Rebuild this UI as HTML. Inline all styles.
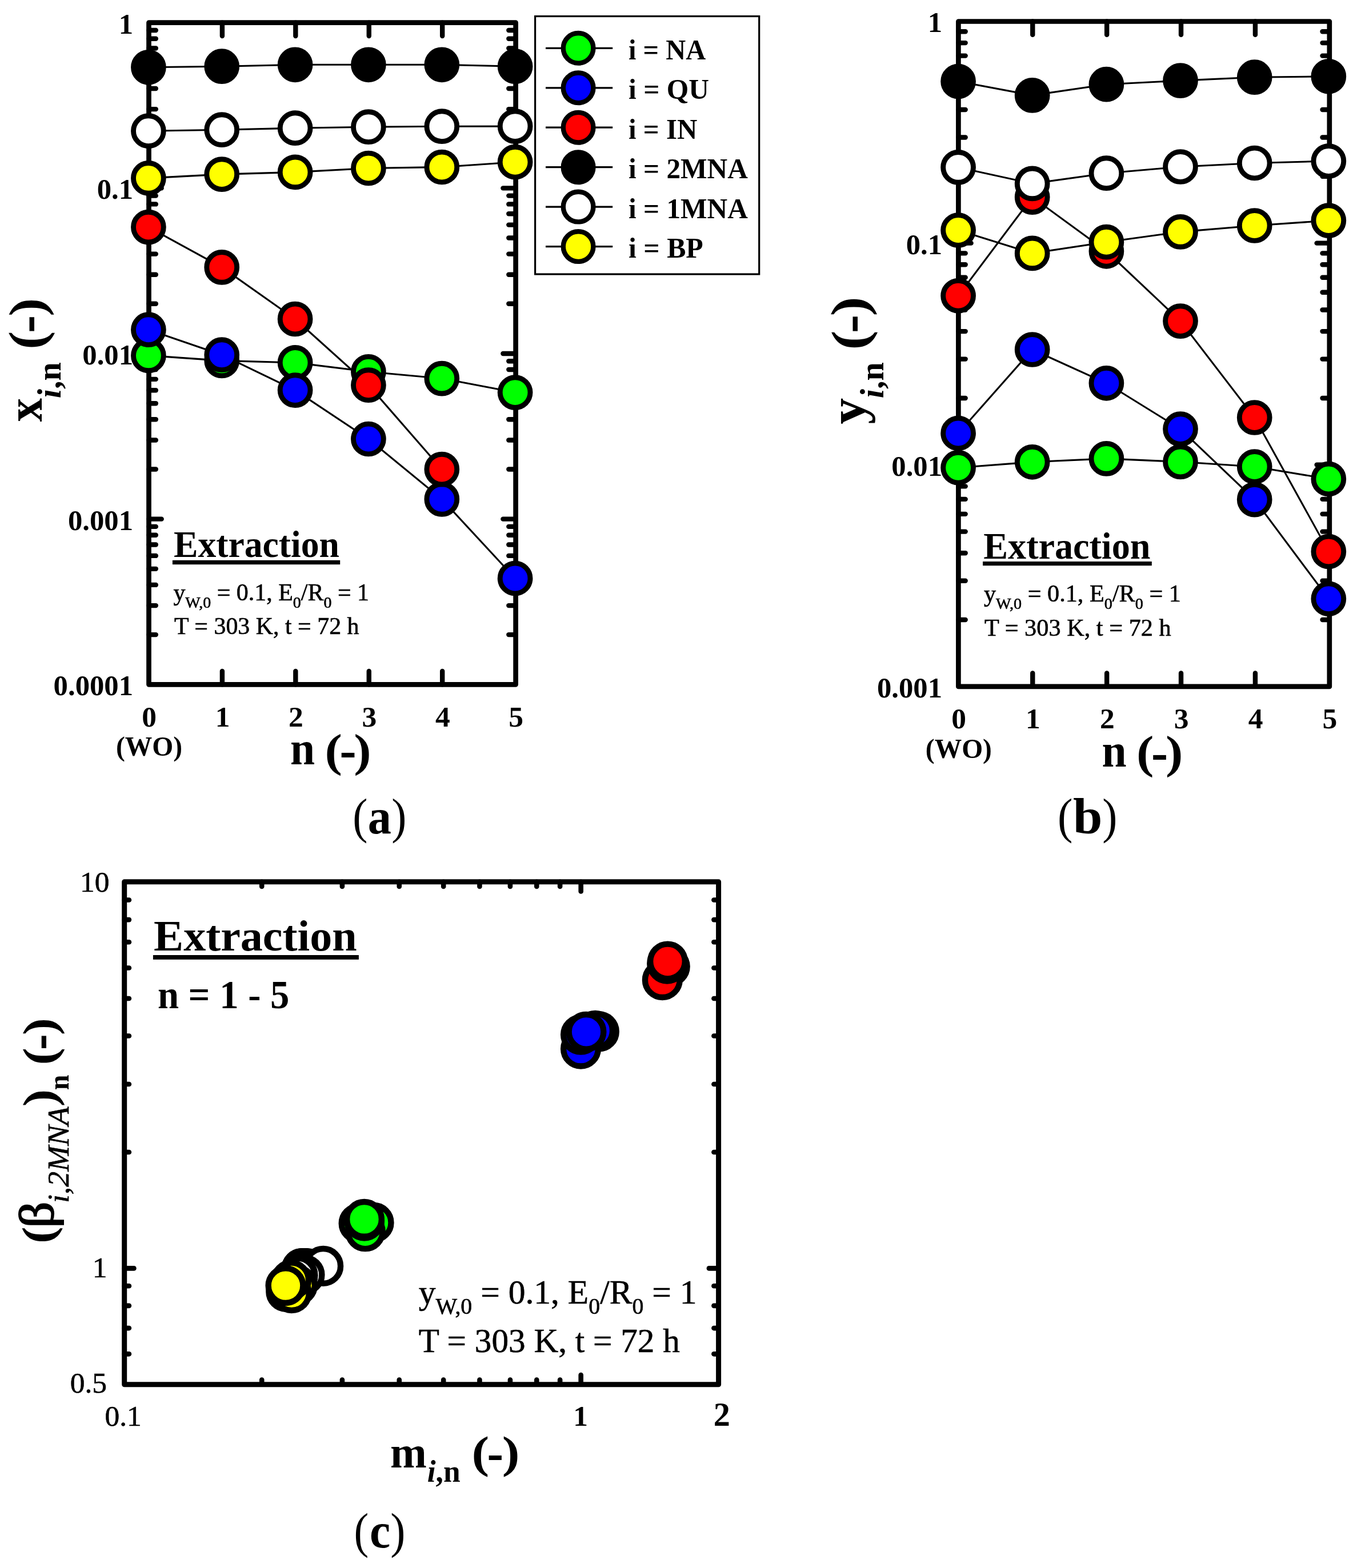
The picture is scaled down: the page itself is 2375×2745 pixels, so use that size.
<!DOCTYPE html>
<html lang="en"><head><meta charset="utf-8"><title>Extraction figure</title>
<style>
html,body{margin:0;padding:0;background:#fff}
svg{display:block}
text{font-family:"Liberation Serif","DejaVu Serif",serif;fill:#000}
</style></head><body>
<svg width="2375" height="2745" viewBox="0 0 2375 2745">
<rect x="0" y="0" width="2375" height="2745" fill="#fff"/>
<g id="plot-a">
<line x1="260.50" y1="242.16" x2="272.80" y2="242.16" stroke="#000" stroke-width="8.4" stroke-linecap="round"/>
<line x1="902.60" y1="242.16" x2="890.30" y2="242.16" stroke="#000" stroke-width="8.4" stroke-linecap="round"/>
<line x1="260.50" y1="191.15" x2="272.80" y2="191.15" stroke="#000" stroke-width="8.4" stroke-linecap="round"/>
<line x1="902.60" y1="191.15" x2="890.30" y2="191.15" stroke="#000" stroke-width="8.4" stroke-linecap="round"/>
<line x1="260.50" y1="154.96" x2="272.80" y2="154.96" stroke="#000" stroke-width="8.4" stroke-linecap="round"/>
<line x1="902.60" y1="154.96" x2="890.30" y2="154.96" stroke="#000" stroke-width="8.4" stroke-linecap="round"/>
<line x1="260.50" y1="126.89" x2="272.80" y2="126.89" stroke="#000" stroke-width="8.4" stroke-linecap="round"/>
<line x1="902.60" y1="126.89" x2="890.30" y2="126.89" stroke="#000" stroke-width="8.4" stroke-linecap="round"/>
<line x1="260.50" y1="103.96" x2="272.80" y2="103.96" stroke="#000" stroke-width="8.4" stroke-linecap="round"/>
<line x1="902.60" y1="103.96" x2="890.30" y2="103.96" stroke="#000" stroke-width="8.4" stroke-linecap="round"/>
<line x1="260.50" y1="84.57" x2="272.80" y2="84.57" stroke="#000" stroke-width="8.4" stroke-linecap="round"/>
<line x1="902.60" y1="84.57" x2="890.30" y2="84.57" stroke="#000" stroke-width="8.4" stroke-linecap="round"/>
<line x1="260.50" y1="67.77" x2="272.80" y2="67.77" stroke="#000" stroke-width="8.4" stroke-linecap="round"/>
<line x1="902.60" y1="67.77" x2="890.30" y2="67.77" stroke="#000" stroke-width="8.4" stroke-linecap="round"/>
<line x1="260.50" y1="52.95" x2="272.80" y2="52.95" stroke="#000" stroke-width="8.4" stroke-linecap="round"/>
<line x1="902.60" y1="52.95" x2="890.30" y2="52.95" stroke="#000" stroke-width="8.4" stroke-linecap="round"/>
<line x1="260.50" y1="329.35" x2="282.70" y2="329.35" stroke="#000" stroke-width="8.4" stroke-linecap="round"/>
<line x1="902.60" y1="329.35" x2="880.40" y2="329.35" stroke="#000" stroke-width="8.4" stroke-linecap="round"/>
<line x1="260.50" y1="531.81" x2="272.80" y2="531.81" stroke="#000" stroke-width="8.4" stroke-linecap="round"/>
<line x1="902.60" y1="531.81" x2="890.30" y2="531.81" stroke="#000" stroke-width="8.4" stroke-linecap="round"/>
<line x1="260.50" y1="480.80" x2="272.80" y2="480.80" stroke="#000" stroke-width="8.4" stroke-linecap="round"/>
<line x1="902.60" y1="480.80" x2="890.30" y2="480.80" stroke="#000" stroke-width="8.4" stroke-linecap="round"/>
<line x1="260.50" y1="444.61" x2="272.80" y2="444.61" stroke="#000" stroke-width="8.4" stroke-linecap="round"/>
<line x1="902.60" y1="444.61" x2="890.30" y2="444.61" stroke="#000" stroke-width="8.4" stroke-linecap="round"/>
<line x1="260.50" y1="416.54" x2="272.80" y2="416.54" stroke="#000" stroke-width="8.4" stroke-linecap="round"/>
<line x1="902.60" y1="416.54" x2="890.30" y2="416.54" stroke="#000" stroke-width="8.4" stroke-linecap="round"/>
<line x1="260.50" y1="393.61" x2="272.80" y2="393.61" stroke="#000" stroke-width="8.4" stroke-linecap="round"/>
<line x1="902.60" y1="393.61" x2="890.30" y2="393.61" stroke="#000" stroke-width="8.4" stroke-linecap="round"/>
<line x1="260.50" y1="374.22" x2="272.80" y2="374.22" stroke="#000" stroke-width="8.4" stroke-linecap="round"/>
<line x1="902.60" y1="374.22" x2="890.30" y2="374.22" stroke="#000" stroke-width="8.4" stroke-linecap="round"/>
<line x1="260.50" y1="357.42" x2="272.80" y2="357.42" stroke="#000" stroke-width="8.4" stroke-linecap="round"/>
<line x1="902.60" y1="357.42" x2="890.30" y2="357.42" stroke="#000" stroke-width="8.4" stroke-linecap="round"/>
<line x1="260.50" y1="342.60" x2="272.80" y2="342.60" stroke="#000" stroke-width="8.4" stroke-linecap="round"/>
<line x1="902.60" y1="342.60" x2="890.30" y2="342.60" stroke="#000" stroke-width="8.4" stroke-linecap="round"/>
<line x1="260.50" y1="619.00" x2="282.70" y2="619.00" stroke="#000" stroke-width="8.4" stroke-linecap="round"/>
<line x1="902.60" y1="619.00" x2="880.40" y2="619.00" stroke="#000" stroke-width="8.4" stroke-linecap="round"/>
<line x1="260.50" y1="821.46" x2="272.80" y2="821.46" stroke="#000" stroke-width="8.4" stroke-linecap="round"/>
<line x1="902.60" y1="821.46" x2="890.30" y2="821.46" stroke="#000" stroke-width="8.4" stroke-linecap="round"/>
<line x1="260.50" y1="770.45" x2="272.80" y2="770.45" stroke="#000" stroke-width="8.4" stroke-linecap="round"/>
<line x1="902.60" y1="770.45" x2="890.30" y2="770.45" stroke="#000" stroke-width="8.4" stroke-linecap="round"/>
<line x1="260.50" y1="734.26" x2="272.80" y2="734.26" stroke="#000" stroke-width="8.4" stroke-linecap="round"/>
<line x1="902.60" y1="734.26" x2="890.30" y2="734.26" stroke="#000" stroke-width="8.4" stroke-linecap="round"/>
<line x1="260.50" y1="706.19" x2="272.80" y2="706.19" stroke="#000" stroke-width="8.4" stroke-linecap="round"/>
<line x1="902.60" y1="706.19" x2="890.30" y2="706.19" stroke="#000" stroke-width="8.4" stroke-linecap="round"/>
<line x1="260.50" y1="683.26" x2="272.80" y2="683.26" stroke="#000" stroke-width="8.4" stroke-linecap="round"/>
<line x1="902.60" y1="683.26" x2="890.30" y2="683.26" stroke="#000" stroke-width="8.4" stroke-linecap="round"/>
<line x1="260.50" y1="663.87" x2="272.80" y2="663.87" stroke="#000" stroke-width="8.4" stroke-linecap="round"/>
<line x1="902.60" y1="663.87" x2="890.30" y2="663.87" stroke="#000" stroke-width="8.4" stroke-linecap="round"/>
<line x1="260.50" y1="647.07" x2="272.80" y2="647.07" stroke="#000" stroke-width="8.4" stroke-linecap="round"/>
<line x1="902.60" y1="647.07" x2="890.30" y2="647.07" stroke="#000" stroke-width="8.4" stroke-linecap="round"/>
<line x1="260.50" y1="632.25" x2="272.80" y2="632.25" stroke="#000" stroke-width="8.4" stroke-linecap="round"/>
<line x1="902.60" y1="632.25" x2="890.30" y2="632.25" stroke="#000" stroke-width="8.4" stroke-linecap="round"/>
<line x1="260.50" y1="908.65" x2="282.70" y2="908.65" stroke="#000" stroke-width="8.4" stroke-linecap="round"/>
<line x1="902.60" y1="908.65" x2="880.40" y2="908.65" stroke="#000" stroke-width="8.4" stroke-linecap="round"/>
<line x1="260.50" y1="1111.11" x2="272.80" y2="1111.11" stroke="#000" stroke-width="8.4" stroke-linecap="round"/>
<line x1="902.60" y1="1111.11" x2="890.30" y2="1111.11" stroke="#000" stroke-width="8.4" stroke-linecap="round"/>
<line x1="260.50" y1="1060.10" x2="272.80" y2="1060.10" stroke="#000" stroke-width="8.4" stroke-linecap="round"/>
<line x1="902.60" y1="1060.10" x2="890.30" y2="1060.10" stroke="#000" stroke-width="8.4" stroke-linecap="round"/>
<line x1="260.50" y1="1023.91" x2="272.80" y2="1023.91" stroke="#000" stroke-width="8.4" stroke-linecap="round"/>
<line x1="902.60" y1="1023.91" x2="890.30" y2="1023.91" stroke="#000" stroke-width="8.4" stroke-linecap="round"/>
<line x1="260.50" y1="995.84" x2="272.80" y2="995.84" stroke="#000" stroke-width="8.4" stroke-linecap="round"/>
<line x1="902.60" y1="995.84" x2="890.30" y2="995.84" stroke="#000" stroke-width="8.4" stroke-linecap="round"/>
<line x1="260.50" y1="972.91" x2="272.80" y2="972.91" stroke="#000" stroke-width="8.4" stroke-linecap="round"/>
<line x1="902.60" y1="972.91" x2="890.30" y2="972.91" stroke="#000" stroke-width="8.4" stroke-linecap="round"/>
<line x1="260.50" y1="953.52" x2="272.80" y2="953.52" stroke="#000" stroke-width="8.4" stroke-linecap="round"/>
<line x1="902.60" y1="953.52" x2="890.30" y2="953.52" stroke="#000" stroke-width="8.4" stroke-linecap="round"/>
<line x1="260.50" y1="936.72" x2="272.80" y2="936.72" stroke="#000" stroke-width="8.4" stroke-linecap="round"/>
<line x1="902.60" y1="936.72" x2="890.30" y2="936.72" stroke="#000" stroke-width="8.4" stroke-linecap="round"/>
<line x1="260.50" y1="921.90" x2="272.80" y2="921.90" stroke="#000" stroke-width="8.4" stroke-linecap="round"/>
<line x1="902.60" y1="921.90" x2="890.30" y2="921.90" stroke="#000" stroke-width="8.4" stroke-linecap="round"/>
<line x1="388.92" y1="39.70" x2="388.92" y2="63.10" stroke="#000" stroke-width="8.4" stroke-linecap="round"/>
<line x1="388.92" y1="1198.30" x2="388.92" y2="1174.90" stroke="#000" stroke-width="8.4" stroke-linecap="round"/>
<line x1="517.34" y1="39.70" x2="517.34" y2="63.10" stroke="#000" stroke-width="8.4" stroke-linecap="round"/>
<line x1="517.34" y1="1198.30" x2="517.34" y2="1174.90" stroke="#000" stroke-width="8.4" stroke-linecap="round"/>
<line x1="645.76" y1="39.70" x2="645.76" y2="63.10" stroke="#000" stroke-width="8.4" stroke-linecap="round"/>
<line x1="645.76" y1="1198.30" x2="645.76" y2="1174.90" stroke="#000" stroke-width="8.4" stroke-linecap="round"/>
<line x1="774.18" y1="39.70" x2="774.18" y2="63.10" stroke="#000" stroke-width="8.4" stroke-linecap="round"/>
<line x1="774.18" y1="1198.30" x2="774.18" y2="1174.90" stroke="#000" stroke-width="8.4" stroke-linecap="round"/>
<rect x="260.5" y="39.7" width="642.10" height="1158.60" fill="none" stroke="#000" stroke-width="8.7" stroke-linejoin="round"/>
<polyline points="259.9,622.4 388.2,631.4 516.6,634.9 644.9,650.8 773.3,662.6 901.6,687.1" fill="none" stroke="#000" stroke-width="3.1"/>
<polyline points="259.9,577.2 388.2,621.2 516.6,683.1 644.9,768.5 773.3,873.9 901.6,1012.5" fill="none" stroke="#000" stroke-width="3.1"/>
<polyline points="259.9,397.6 388.2,467.9 516.6,558.5 644.9,674.2 773.3,821.6" fill="none" stroke="#000" stroke-width="3.1"/>
<polyline points="259.9,117.8 388.2,116.2 516.6,113.3 644.9,113.3 773.3,113.3 901.6,116.2" fill="none" stroke="#000" stroke-width="3.1"/>
<polyline points="259.9,229.2 388.2,227.2 516.6,224.2 644.9,222.2 773.3,221.2 901.6,221.1" fill="none" stroke="#000" stroke-width="3.1"/>
<polyline points="259.9,311.9 388.2,305.1 516.6,301.4 644.9,294.5 773.3,292.5 901.6,283.7" fill="none" stroke="#000" stroke-width="3.1"/>
<circle cx="259.9" cy="622.4" r="26.4" fill="#00ff00" stroke="#000" stroke-width="8.9"/>
<circle cx="388.2" cy="631.4" r="26.4" fill="#00ff00" stroke="#000" stroke-width="8.9"/>
<circle cx="516.6" cy="634.9" r="26.4" fill="#00ff00" stroke="#000" stroke-width="8.9"/>
<circle cx="644.9" cy="650.8" r="26.4" fill="#00ff00" stroke="#000" stroke-width="8.9"/>
<circle cx="773.3" cy="662.6" r="26.4" fill="#00ff00" stroke="#000" stroke-width="8.9"/>
<circle cx="901.6" cy="687.1" r="26.4" fill="#00ff00" stroke="#000" stroke-width="8.9"/>
<circle cx="259.9" cy="577.2" r="26.4" fill="#0000ff" stroke="#000" stroke-width="8.9"/>
<circle cx="388.2" cy="621.2" r="26.4" fill="#0000ff" stroke="#000" stroke-width="8.9"/>
<circle cx="516.6" cy="683.1" r="26.4" fill="#0000ff" stroke="#000" stroke-width="8.9"/>
<circle cx="644.9" cy="768.5" r="26.4" fill="#0000ff" stroke="#000" stroke-width="8.9"/>
<circle cx="773.3" cy="873.9" r="26.4" fill="#0000ff" stroke="#000" stroke-width="8.9"/>
<circle cx="901.6" cy="1012.5" r="26.4" fill="#0000ff" stroke="#000" stroke-width="8.9"/>
<circle cx="259.9" cy="397.6" r="26.4" fill="#ff0000" stroke="#000" stroke-width="8.9"/>
<circle cx="388.2" cy="467.9" r="26.4" fill="#ff0000" stroke="#000" stroke-width="8.9"/>
<circle cx="516.6" cy="558.5" r="26.4" fill="#ff0000" stroke="#000" stroke-width="8.9"/>
<circle cx="644.9" cy="674.2" r="26.4" fill="#ff0000" stroke="#000" stroke-width="8.9"/>
<circle cx="773.3" cy="821.6" r="26.4" fill="#ff0000" stroke="#000" stroke-width="8.9"/>
<circle cx="259.9" cy="117.8" r="26.4" fill="#000000" stroke="#000" stroke-width="8.9"/>
<circle cx="388.2" cy="116.2" r="26.4" fill="#000000" stroke="#000" stroke-width="8.9"/>
<circle cx="516.6" cy="113.3" r="26.4" fill="#000000" stroke="#000" stroke-width="8.9"/>
<circle cx="644.9" cy="113.3" r="26.4" fill="#000000" stroke="#000" stroke-width="8.9"/>
<circle cx="773.3" cy="113.3" r="26.4" fill="#000000" stroke="#000" stroke-width="8.9"/>
<circle cx="901.6" cy="116.2" r="26.4" fill="#000000" stroke="#000" stroke-width="8.9"/>
<circle cx="259.9" cy="229.2" r="26.4" fill="#ffffff" stroke="#000" stroke-width="8.9"/>
<circle cx="388.2" cy="227.2" r="26.4" fill="#ffffff" stroke="#000" stroke-width="8.9"/>
<circle cx="516.6" cy="224.2" r="26.4" fill="#ffffff" stroke="#000" stroke-width="8.9"/>
<circle cx="644.9" cy="222.2" r="26.4" fill="#ffffff" stroke="#000" stroke-width="8.9"/>
<circle cx="773.3" cy="221.2" r="26.4" fill="#ffffff" stroke="#000" stroke-width="8.9"/>
<circle cx="901.6" cy="221.1" r="26.4" fill="#ffffff" stroke="#000" stroke-width="8.9"/>
<circle cx="259.9" cy="311.9" r="26.4" fill="#ffff00" stroke="#000" stroke-width="8.9"/>
<circle cx="388.2" cy="305.1" r="26.4" fill="#ffff00" stroke="#000" stroke-width="8.9"/>
<circle cx="516.6" cy="301.4" r="26.4" fill="#ffff00" stroke="#000" stroke-width="8.9"/>
<circle cx="644.9" cy="294.5" r="26.4" fill="#ffff00" stroke="#000" stroke-width="8.9"/>
<circle cx="773.3" cy="292.5" r="26.4" fill="#ffff00" stroke="#000" stroke-width="8.9"/>
<circle cx="901.6" cy="283.7" r="26.4" fill="#ffff00" stroke="#000" stroke-width="8.9"/>
<g transform="translate(233.10 58.60) scale(0.985 1)"><text font-size="51.5" font-weight="bold" font-style="normal" text-anchor="end" >1</text></g>
<g transform="translate(233.10 348.25) scale(0.985 1)"><text font-size="51.5" font-weight="bold" font-style="normal" text-anchor="end" >0.1</text></g>
<g transform="translate(233.10 637.90) scale(0.985 1)"><text font-size="51.5" font-weight="bold" font-style="normal" text-anchor="end" >0.01</text></g>
<g transform="translate(233.10 927.55) scale(0.985 1)"><text font-size="51.5" font-weight="bold" font-style="normal" text-anchor="end" >0.001</text></g>
<g transform="translate(233.10 1217.20) scale(0.985 1)"><text font-size="51.5" font-weight="bold" font-style="normal" text-anchor="end" >0.0001</text></g>
<g transform="translate(261.10 1271.70) scale(1.0 1)"><text font-size="51.5" font-weight="bold" font-style="normal" text-anchor="middle" >0</text></g>
<g transform="translate(389.52 1271.70) scale(1.0 1)"><text font-size="51.5" font-weight="bold" font-style="normal" text-anchor="middle" >1</text></g>
<g transform="translate(517.94 1271.70) scale(1.0 1)"><text font-size="51.5" font-weight="bold" font-style="normal" text-anchor="middle" >2</text></g>
<g transform="translate(646.36 1271.70) scale(1.0 1)"><text font-size="51.5" font-weight="bold" font-style="normal" text-anchor="middle" >3</text></g>
<g transform="translate(774.78 1271.70) scale(1.0 1)"><text font-size="51.5" font-weight="bold" font-style="normal" text-anchor="middle" >4</text></g>
<g transform="translate(903.20 1271.70) scale(1.0 1)"><text font-size="51.5" font-weight="bold" font-style="normal" text-anchor="middle" >5</text></g>
<g transform="translate(202.90 1322.97) scale(0.9508 0.9733)"><text font-size="50" font-weight="bold" font-style="normal" text-anchor="start" >(WO)</text></g>
<g transform="translate(303.99 975.30) scale(1.0105 1.0409)"><text font-size="63" font-weight="bold" font-style="normal" text-anchor="start" >Extraction</text></g>
<rect x="301.9" y="980.8" width="293.3" height="7.4" fill="#000"/>
<g transform="translate(303.40 1051.30) scale(1.0059 1.0059)"><text font-size="41.7" font-weight="normal" stroke="#000" stroke-width="0.6">y<tspan font-size="27.8" dy="12.8">W,0</tspan><tspan dy="-12.8"> = 0.1, E</tspan><tspan font-size="27.8" dy="12.8">0</tspan><tspan dy="-12.8">/R</tspan><tspan font-size="27.8" dy="12.8">0</tspan><tspan dy="-12.8"> = 1</tspan></text></g>
<g transform="translate(305.00 1109.80) scale(1.0053 1.0053)"><text font-size="41.7" font-weight="normal" stroke="#000" stroke-width="0.6">T = 303 K, t = 72 h</text></g>
<g transform="translate(507.94 1338.30) scale(0.9805 1.0351)"><text font-size="79" font-weight="bold" font-style="normal" text-anchor="start" >n</text></g>
<g transform="translate(568.48 1340.72) scale(1.1550 1.0114)"><text font-size="79" font-weight="bold" font-style="normal" text-anchor="start" >(</text></g>
<g transform="translate(594.48 1344.11) scale(1.1050 1.2143)"><text font-size="79" font-weight="bold" font-style="normal" text-anchor="start" >-</text></g>
<g transform="translate(619.33 1340.72) scale(1.1550 1.0114)"><text font-size="79" font-weight="bold" font-style="normal" text-anchor="start" >)</text></g>
<g transform="translate(73.00 738.20) scale(1.0024 0.9395) rotate(-90)"><text font-size="88" font-weight="bold" font-style="normal" text-anchor="start" >x</text></g>
<g transform="translate(105.68 697.31) scale(1.0245 1.0050) rotate(-90)"><text font-size="58" font-weight="bold"><tspan font-style="italic">i</tspan>,n</text></g>
<g transform="translate(76.56 611.78) scale(1.0076 1.0955) rotate(-90)"><text font-size="88" font-weight="bold" font-style="normal" text-anchor="start" >(</text></g>
<g transform="translate(79.24 583.00) scale(1.1375 1.0652) rotate(-90)"><text font-size="88" font-weight="bold" font-style="normal" text-anchor="start" >-</text></g>
<g transform="translate(75.80 553.69) scale(0.9950 1.0955) rotate(-90)"><text font-size="88" font-weight="bold" font-style="normal" text-anchor="start" >)</text></g>
<g transform="translate(617.15 1458.05) scale(0.9136 1.0026)"><text font-size="86" font-weight="normal" font-style="normal" text-anchor="start" >(</text></g>
<g transform="translate(643.83 1458.80) scale(0.9564 1.0268)"><text font-size="86" font-weight="bold" font-style="normal" text-anchor="start" >a</text></g>
<g transform="translate(685.36 1458.05) scale(0.9136 1.0026)"><text font-size="86" font-weight="normal" font-style="normal" text-anchor="start" >)</text></g>
</g>
<g id="legend">
<rect x="936.6" y="28.5" width="392.1" height="451.5" fill="#fff" stroke="#000" stroke-width="3.2"/>
<line x1="955" y1="84.3" x2="1072.2" y2="84.3" stroke="#000" stroke-width="3.3"/>
<circle cx="1012.1" cy="84.3" r="26.3" fill="#00ff00" stroke="#000" stroke-width="8.4"/>
<g transform="translate(1100.04 103.80) scale(0.9571 1.0000)"><text font-size="50.6" font-weight="bold" font-style="normal" text-anchor="start" >i = NA</text></g>
<line x1="955" y1="153.8" x2="1072.2" y2="153.8" stroke="#000" stroke-width="3.3"/>
<circle cx="1012.1" cy="153.8" r="26.3" fill="#0000ff" stroke="#000" stroke-width="8.4"/>
<g transform="translate(1100.02 173.25) scale(0.9789 1.0000)"><text font-size="50.6" font-weight="bold" font-style="normal" text-anchor="start" >i = QU</text></g>
<line x1="955" y1="223.2" x2="1072.2" y2="223.2" stroke="#000" stroke-width="3.3"/>
<circle cx="1012.1" cy="223.2" r="26.3" fill="#ff0000" stroke="#000" stroke-width="8.4"/>
<g transform="translate(1100.03 242.70) scale(0.9675 1.0000)"><text font-size="50.6" font-weight="bold" font-style="normal" text-anchor="start" >i = IN</text></g>
<line x1="955" y1="292.7" x2="1072.2" y2="292.7" stroke="#000" stroke-width="3.3"/>
<circle cx="1012.1" cy="292.7" r="26.3" fill="#000000" stroke="#000" stroke-width="8.4"/>
<g transform="translate(1100.03 312.15) scale(0.9742 1.0000)"><text font-size="50.6" font-weight="bold" font-style="normal" text-anchor="start" >i = 2MNA</text></g>
<line x1="955" y1="362.1" x2="1072.2" y2="362.1" stroke="#000" stroke-width="3.3"/>
<circle cx="1012.1" cy="362.1" r="26.3" fill="#ffffff" stroke="#000" stroke-width="8.4"/>
<g transform="translate(1100.03 381.60) scale(0.9742 1.0000)"><text font-size="50.6" font-weight="bold" font-style="normal" text-anchor="start" >i = 1MNA</text></g>
<line x1="955" y1="431.6" x2="1072.2" y2="431.6" stroke="#000" stroke-width="3.3"/>
<circle cx="1012.1" cy="431.6" r="26.3" fill="#ffff00" stroke="#000" stroke-width="8.4"/>
<g transform="translate(1100.02 451.05) scale(0.9846 1.0000)"><text font-size="50.6" font-weight="bold" font-style="normal" text-anchor="start" >i = BP</text></g>
</g>
<g id="plot-b">
<line x1="1677.40" y1="308.79" x2="1689.70" y2="308.79" stroke="#000" stroke-width="8.4" stroke-linecap="round"/>
<line x1="2326.80" y1="308.79" x2="2314.50" y2="308.79" stroke="#000" stroke-width="8.4" stroke-linecap="round"/>
<line x1="1677.40" y1="240.45" x2="1689.70" y2="240.45" stroke="#000" stroke-width="8.4" stroke-linecap="round"/>
<line x1="2326.80" y1="240.45" x2="2314.50" y2="240.45" stroke="#000" stroke-width="8.4" stroke-linecap="round"/>
<line x1="1677.40" y1="191.95" x2="1689.70" y2="191.95" stroke="#000" stroke-width="8.4" stroke-linecap="round"/>
<line x1="2326.80" y1="191.95" x2="2314.50" y2="191.95" stroke="#000" stroke-width="8.4" stroke-linecap="round"/>
<line x1="1677.40" y1="154.34" x2="1689.70" y2="154.34" stroke="#000" stroke-width="8.4" stroke-linecap="round"/>
<line x1="2326.80" y1="154.34" x2="2314.50" y2="154.34" stroke="#000" stroke-width="8.4" stroke-linecap="round"/>
<line x1="1677.40" y1="123.61" x2="1689.70" y2="123.61" stroke="#000" stroke-width="8.4" stroke-linecap="round"/>
<line x1="2326.80" y1="123.61" x2="2314.50" y2="123.61" stroke="#000" stroke-width="8.4" stroke-linecap="round"/>
<line x1="1677.40" y1="97.62" x2="1689.70" y2="97.62" stroke="#000" stroke-width="8.4" stroke-linecap="round"/>
<line x1="2326.80" y1="97.62" x2="2314.50" y2="97.62" stroke="#000" stroke-width="8.4" stroke-linecap="round"/>
<line x1="1677.40" y1="75.11" x2="1689.70" y2="75.11" stroke="#000" stroke-width="8.4" stroke-linecap="round"/>
<line x1="2326.80" y1="75.11" x2="2314.50" y2="75.11" stroke="#000" stroke-width="8.4" stroke-linecap="round"/>
<line x1="1677.40" y1="55.26" x2="1689.70" y2="55.26" stroke="#000" stroke-width="8.4" stroke-linecap="round"/>
<line x1="2326.80" y1="55.26" x2="2314.50" y2="55.26" stroke="#000" stroke-width="8.4" stroke-linecap="round"/>
<line x1="1677.40" y1="425.63" x2="1699.60" y2="425.63" stroke="#000" stroke-width="8.4" stroke-linecap="round"/>
<line x1="2326.80" y1="425.63" x2="2304.60" y2="425.63" stroke="#000" stroke-width="8.4" stroke-linecap="round"/>
<line x1="1677.40" y1="696.93" x2="1689.70" y2="696.93" stroke="#000" stroke-width="8.4" stroke-linecap="round"/>
<line x1="2326.80" y1="696.93" x2="2314.50" y2="696.93" stroke="#000" stroke-width="8.4" stroke-linecap="round"/>
<line x1="1677.40" y1="628.58" x2="1689.70" y2="628.58" stroke="#000" stroke-width="8.4" stroke-linecap="round"/>
<line x1="2326.80" y1="628.58" x2="2314.50" y2="628.58" stroke="#000" stroke-width="8.4" stroke-linecap="round"/>
<line x1="1677.40" y1="580.09" x2="1689.70" y2="580.09" stroke="#000" stroke-width="8.4" stroke-linecap="round"/>
<line x1="2326.80" y1="580.09" x2="2314.50" y2="580.09" stroke="#000" stroke-width="8.4" stroke-linecap="round"/>
<line x1="1677.40" y1="542.47" x2="1689.70" y2="542.47" stroke="#000" stroke-width="8.4" stroke-linecap="round"/>
<line x1="2326.80" y1="542.47" x2="2314.50" y2="542.47" stroke="#000" stroke-width="8.4" stroke-linecap="round"/>
<line x1="1677.40" y1="511.74" x2="1689.70" y2="511.74" stroke="#000" stroke-width="8.4" stroke-linecap="round"/>
<line x1="2326.80" y1="511.74" x2="2314.50" y2="511.74" stroke="#000" stroke-width="8.4" stroke-linecap="round"/>
<line x1="1677.40" y1="485.76" x2="1689.70" y2="485.76" stroke="#000" stroke-width="8.4" stroke-linecap="round"/>
<line x1="2326.80" y1="485.76" x2="2314.50" y2="485.76" stroke="#000" stroke-width="8.4" stroke-linecap="round"/>
<line x1="1677.40" y1="463.25" x2="1689.70" y2="463.25" stroke="#000" stroke-width="8.4" stroke-linecap="round"/>
<line x1="2326.80" y1="463.25" x2="2314.50" y2="463.25" stroke="#000" stroke-width="8.4" stroke-linecap="round"/>
<line x1="1677.40" y1="443.39" x2="1689.70" y2="443.39" stroke="#000" stroke-width="8.4" stroke-linecap="round"/>
<line x1="2326.80" y1="443.39" x2="2314.50" y2="443.39" stroke="#000" stroke-width="8.4" stroke-linecap="round"/>
<line x1="1677.40" y1="813.77" x2="1699.60" y2="813.77" stroke="#000" stroke-width="8.4" stroke-linecap="round"/>
<line x1="2326.80" y1="813.77" x2="2304.60" y2="813.77" stroke="#000" stroke-width="8.4" stroke-linecap="round"/>
<line x1="1677.40" y1="1085.06" x2="1689.70" y2="1085.06" stroke="#000" stroke-width="8.4" stroke-linecap="round"/>
<line x1="2326.80" y1="1085.06" x2="2314.50" y2="1085.06" stroke="#000" stroke-width="8.4" stroke-linecap="round"/>
<line x1="1677.40" y1="1016.71" x2="1689.70" y2="1016.71" stroke="#000" stroke-width="8.4" stroke-linecap="round"/>
<line x1="2326.80" y1="1016.71" x2="2314.50" y2="1016.71" stroke="#000" stroke-width="8.4" stroke-linecap="round"/>
<line x1="1677.40" y1="968.22" x2="1689.70" y2="968.22" stroke="#000" stroke-width="8.4" stroke-linecap="round"/>
<line x1="2326.80" y1="968.22" x2="2314.50" y2="968.22" stroke="#000" stroke-width="8.4" stroke-linecap="round"/>
<line x1="1677.40" y1="930.61" x2="1689.70" y2="930.61" stroke="#000" stroke-width="8.4" stroke-linecap="round"/>
<line x1="2326.80" y1="930.61" x2="2314.50" y2="930.61" stroke="#000" stroke-width="8.4" stroke-linecap="round"/>
<line x1="1677.40" y1="899.87" x2="1689.70" y2="899.87" stroke="#000" stroke-width="8.4" stroke-linecap="round"/>
<line x1="2326.80" y1="899.87" x2="2314.50" y2="899.87" stroke="#000" stroke-width="8.4" stroke-linecap="round"/>
<line x1="1677.40" y1="873.89" x2="1689.70" y2="873.89" stroke="#000" stroke-width="8.4" stroke-linecap="round"/>
<line x1="2326.80" y1="873.89" x2="2314.50" y2="873.89" stroke="#000" stroke-width="8.4" stroke-linecap="round"/>
<line x1="1677.40" y1="851.38" x2="1689.70" y2="851.38" stroke="#000" stroke-width="8.4" stroke-linecap="round"/>
<line x1="2326.80" y1="851.38" x2="2314.50" y2="851.38" stroke="#000" stroke-width="8.4" stroke-linecap="round"/>
<line x1="1677.40" y1="831.53" x2="1689.70" y2="831.53" stroke="#000" stroke-width="8.4" stroke-linecap="round"/>
<line x1="2326.80" y1="831.53" x2="2314.50" y2="831.53" stroke="#000" stroke-width="8.4" stroke-linecap="round"/>
<line x1="1807.28" y1="37.50" x2="1807.28" y2="60.90" stroke="#000" stroke-width="8.4" stroke-linecap="round"/>
<line x1="1807.28" y1="1201.90" x2="1807.28" y2="1178.50" stroke="#000" stroke-width="8.4" stroke-linecap="round"/>
<line x1="1937.16" y1="37.50" x2="1937.16" y2="60.90" stroke="#000" stroke-width="8.4" stroke-linecap="round"/>
<line x1="1937.16" y1="1201.90" x2="1937.16" y2="1178.50" stroke="#000" stroke-width="8.4" stroke-linecap="round"/>
<line x1="2067.04" y1="37.50" x2="2067.04" y2="60.90" stroke="#000" stroke-width="8.4" stroke-linecap="round"/>
<line x1="2067.04" y1="1201.90" x2="2067.04" y2="1178.50" stroke="#000" stroke-width="8.4" stroke-linecap="round"/>
<line x1="2196.92" y1="37.50" x2="2196.92" y2="60.90" stroke="#000" stroke-width="8.4" stroke-linecap="round"/>
<line x1="2196.92" y1="1201.90" x2="2196.92" y2="1178.50" stroke="#000" stroke-width="8.4" stroke-linecap="round"/>
<rect x="1677.4" y="37.5" width="649.40" height="1164.40" fill="none" stroke="#000" stroke-width="8.7" stroke-linejoin="round"/>
<polyline points="1677.1,818.7 1806.7,808.8 1936.4,802.9 2066.0,808.5 2195.7,817.0 2325.3,838.5" fill="none" stroke="#000" stroke-width="3.1"/>
<polyline points="1677.1,758.5 1806.7,612.0 1936.4,670.8 2066.0,751.1 2195.7,874.6 2325.3,1048.3" fill="none" stroke="#000" stroke-width="3.1"/>
<polyline points="1677.1,517.8 1806.7,345.1 1936.4,439.8 2066.0,562.1 2195.7,731.0 2325.3,965.5" fill="none" stroke="#000" stroke-width="3.1"/>
<polyline points="1677.1,142.5 1806.7,166.9 1936.4,147.7 2066.0,141.1 2195.7,135.2 2325.3,133.8" fill="none" stroke="#000" stroke-width="3.1"/>
<polyline points="1677.1,292.9 1806.7,321.4 1936.4,303.2 2066.0,292.0 2195.7,285.5 2325.3,282.0" fill="none" stroke="#000" stroke-width="3.1"/>
<polyline points="1677.1,403.0 1806.7,443.4 1936.4,423.7 2066.0,405.9 2195.7,395.0 2325.3,386.1" fill="none" stroke="#000" stroke-width="3.1"/>
<circle cx="1677.1" cy="818.7" r="26.4" fill="#00ff00" stroke="#000" stroke-width="8.9"/>
<circle cx="1806.7" cy="808.8" r="26.4" fill="#00ff00" stroke="#000" stroke-width="8.9"/>
<circle cx="1936.4" cy="802.9" r="26.4" fill="#00ff00" stroke="#000" stroke-width="8.9"/>
<circle cx="2066.0" cy="808.5" r="26.4" fill="#00ff00" stroke="#000" stroke-width="8.9"/>
<circle cx="2195.7" cy="817.0" r="26.4" fill="#00ff00" stroke="#000" stroke-width="8.9"/>
<circle cx="2325.3" cy="838.5" r="26.4" fill="#00ff00" stroke="#000" stroke-width="8.9"/>
<circle cx="1677.1" cy="758.5" r="26.4" fill="#0000ff" stroke="#000" stroke-width="8.9"/>
<circle cx="1806.7" cy="612.0" r="26.4" fill="#0000ff" stroke="#000" stroke-width="8.9"/>
<circle cx="1936.4" cy="670.8" r="26.4" fill="#0000ff" stroke="#000" stroke-width="8.9"/>
<circle cx="2066.0" cy="751.1" r="26.4" fill="#0000ff" stroke="#000" stroke-width="8.9"/>
<circle cx="2195.7" cy="874.6" r="26.4" fill="#0000ff" stroke="#000" stroke-width="8.9"/>
<circle cx="2325.3" cy="1048.3" r="26.4" fill="#0000ff" stroke="#000" stroke-width="8.9"/>
<circle cx="1677.1" cy="517.8" r="26.4" fill="#ff0000" stroke="#000" stroke-width="8.9"/>
<circle cx="1806.7" cy="345.1" r="26.4" fill="#ff0000" stroke="#000" stroke-width="8.9"/>
<circle cx="1936.4" cy="439.8" r="26.4" fill="#ff0000" stroke="#000" stroke-width="8.9"/>
<circle cx="2066.0" cy="562.1" r="26.4" fill="#ff0000" stroke="#000" stroke-width="8.9"/>
<circle cx="2195.7" cy="731.0" r="26.4" fill="#ff0000" stroke="#000" stroke-width="8.9"/>
<circle cx="2325.3" cy="965.5" r="26.4" fill="#ff0000" stroke="#000" stroke-width="8.9"/>
<circle cx="1677.1" cy="142.5" r="26.4" fill="#000000" stroke="#000" stroke-width="8.9"/>
<circle cx="1806.7" cy="166.9" r="26.4" fill="#000000" stroke="#000" stroke-width="8.9"/>
<circle cx="1936.4" cy="147.7" r="26.4" fill="#000000" stroke="#000" stroke-width="8.9"/>
<circle cx="2066.0" cy="141.1" r="26.4" fill="#000000" stroke="#000" stroke-width="8.9"/>
<circle cx="2195.7" cy="135.2" r="26.4" fill="#000000" stroke="#000" stroke-width="8.9"/>
<circle cx="2325.3" cy="133.8" r="26.4" fill="#000000" stroke="#000" stroke-width="8.9"/>
<circle cx="1677.1" cy="292.9" r="26.4" fill="#ffffff" stroke="#000" stroke-width="8.9"/>
<circle cx="1806.7" cy="321.4" r="26.4" fill="#ffffff" stroke="#000" stroke-width="8.9"/>
<circle cx="1936.4" cy="303.2" r="26.4" fill="#ffffff" stroke="#000" stroke-width="8.9"/>
<circle cx="2066.0" cy="292.0" r="26.4" fill="#ffffff" stroke="#000" stroke-width="8.9"/>
<circle cx="2195.7" cy="285.5" r="26.4" fill="#ffffff" stroke="#000" stroke-width="8.9"/>
<circle cx="2325.3" cy="282.0" r="26.4" fill="#ffffff" stroke="#000" stroke-width="8.9"/>
<circle cx="1677.1" cy="403.0" r="26.4" fill="#ffff00" stroke="#000" stroke-width="8.9"/>
<circle cx="1806.7" cy="443.4" r="26.4" fill="#ffff00" stroke="#000" stroke-width="8.9"/>
<circle cx="1936.4" cy="423.7" r="26.4" fill="#ffff00" stroke="#000" stroke-width="8.9"/>
<circle cx="2066.0" cy="405.9" r="26.4" fill="#ffff00" stroke="#000" stroke-width="8.9"/>
<circle cx="2195.7" cy="395.0" r="26.4" fill="#ffff00" stroke="#000" stroke-width="8.9"/>
<circle cx="2325.3" cy="386.1" r="26.4" fill="#ffff00" stroke="#000" stroke-width="8.9"/>
<g transform="translate(1649.10 56.40) scale(0.985 1)"><text font-size="51.5" font-weight="bold" font-style="normal" text-anchor="end" >1</text></g>
<g transform="translate(1649.10 444.53) scale(0.985 1)"><text font-size="51.5" font-weight="bold" font-style="normal" text-anchor="end" >0.1</text></g>
<g transform="translate(1649.10 832.67) scale(0.985 1)"><text font-size="51.5" font-weight="bold" font-style="normal" text-anchor="end" >0.01</text></g>
<g transform="translate(1649.10 1220.80) scale(0.985 1)"><text font-size="51.5" font-weight="bold" font-style="normal" text-anchor="end" >0.001</text></g>
<g transform="translate(1678.00 1275.30) scale(1.0 1)"><text font-size="51.5" font-weight="bold" font-style="normal" text-anchor="middle" >0</text></g>
<g transform="translate(1807.88 1275.30) scale(1.0 1)"><text font-size="51.5" font-weight="bold" font-style="normal" text-anchor="middle" >1</text></g>
<g transform="translate(1937.76 1275.30) scale(1.0 1)"><text font-size="51.5" font-weight="bold" font-style="normal" text-anchor="middle" >2</text></g>
<g transform="translate(2067.64 1275.30) scale(1.0 1)"><text font-size="51.5" font-weight="bold" font-style="normal" text-anchor="middle" >3</text></g>
<g transform="translate(2197.52 1275.30) scale(1.0 1)"><text font-size="51.5" font-weight="bold" font-style="normal" text-anchor="middle" >4</text></g>
<g transform="translate(2327.40 1275.30) scale(1.0 1)"><text font-size="51.5" font-weight="bold" font-style="normal" text-anchor="middle" >5</text></g>
<g transform="translate(1619.80 1326.57) scale(0.9508 0.9733)"><text font-size="50" font-weight="bold" font-style="normal" text-anchor="start" >(WO)</text></g>
<g transform="translate(1721.28 977.50) scale(1.0182 1.0250)"><text font-size="63" font-weight="bold" font-style="normal" text-anchor="start" >Extraction</text></g>
<rect x="1720.1" y="983" width="295.7" height="7.2" fill="#000"/>
<g transform="translate(1721.90 1052.90) scale(1.0130 1.0130)"><text font-size="41.7" font-weight="normal" stroke="#000" stroke-width="0.6">y<tspan font-size="27.8" dy="12.8">W,0</tspan><tspan dy="-12.8"> = 0.1, E</tspan><tspan font-size="27.8" dy="12.8">0</tspan><tspan dy="-12.8">/R</tspan><tspan font-size="27.8" dy="12.8">0</tspan><tspan dy="-12.8"> = 1</tspan></text></g>
<g transform="translate(1723.00 1113.20) scale(1.0149 1.0149)"><text font-size="41.7" font-weight="normal" stroke="#000" stroke-width="0.6">T = 303 K, t = 72 h</text></g>
<g transform="translate(1928.54 1341.90) scale(0.9805 1.0351)"><text font-size="79" font-weight="bold" font-style="normal" text-anchor="start" >n</text></g>
<g transform="translate(1989.08 1344.32) scale(1.1550 1.0114)"><text font-size="79" font-weight="bold" font-style="normal" text-anchor="start" >(</text></g>
<g transform="translate(2015.08 1347.71) scale(1.1050 1.2143)"><text font-size="79" font-weight="bold" font-style="normal" text-anchor="start" >-</text></g>
<g transform="translate(2039.93 1344.32) scale(1.1550 1.0114)"><text font-size="79" font-weight="bold" font-style="normal" text-anchor="start" >)</text></g>
<g transform="translate(1512.94 742.75) scale(1.0033 1.0452) rotate(-90)"><text font-size="88" font-weight="bold" font-style="normal" text-anchor="start" >y</text></g>
<g transform="translate(1545.98 697.31) scale(1.0245 1.0050) rotate(-90)"><text font-size="58" font-weight="bold"><tspan font-style="italic">i</tspan>,n</text></g>
<g transform="translate(1516.65 612.67) scale(1.0139 1.1682) rotate(-90)"><text font-size="88" font-weight="bold" font-style="normal" text-anchor="start" >(</text></g>
<g transform="translate(1519.54 583.13) scale(1.1375 1.1087) rotate(-90)"><text font-size="88" font-weight="bold" font-style="normal" text-anchor="start" >-</text></g>
<g transform="translate(1515.88 553.60) scale(1.0013 1.1682) rotate(-90)"><text font-size="88" font-weight="bold" font-style="normal" text-anchor="start" >)</text></g>
<g transform="translate(1851.01 1457.98) scale(0.9227 1.0013)"><text font-size="86" font-weight="normal" font-style="normal" text-anchor="start" >(</text></g>
<g transform="translate(1877.93 1458.56) scale(1.0744 1.0393)"><text font-size="86" font-weight="bold" font-style="normal" text-anchor="start" >b</text></g>
<g transform="translate(1929.16 1457.98) scale(0.9136 1.0013)"><text font-size="86" font-weight="normal" font-style="normal" text-anchor="start" >)</text></g>
</g>
<g id="plot-c">
<line x1="458.22" y1="1543.80" x2="458.22" y2="1552.00" stroke="#000" stroke-width="8.6" stroke-linecap="round"/>
<line x1="458.22" y1="2423.80" x2="458.22" y2="2415.60" stroke="#000" stroke-width="8.6" stroke-linecap="round"/>
<line x1="598.92" y1="1543.80" x2="598.92" y2="1552.00" stroke="#000" stroke-width="8.6" stroke-linecap="round"/>
<line x1="598.92" y1="2423.80" x2="598.92" y2="2415.60" stroke="#000" stroke-width="8.6" stroke-linecap="round"/>
<line x1="698.75" y1="1543.80" x2="698.75" y2="1552.00" stroke="#000" stroke-width="8.6" stroke-linecap="round"/>
<line x1="698.75" y1="2423.80" x2="698.75" y2="2415.60" stroke="#000" stroke-width="8.6" stroke-linecap="round"/>
<line x1="776.18" y1="1543.80" x2="776.18" y2="1552.00" stroke="#000" stroke-width="8.6" stroke-linecap="round"/>
<line x1="776.18" y1="2423.80" x2="776.18" y2="2415.60" stroke="#000" stroke-width="8.6" stroke-linecap="round"/>
<line x1="839.44" y1="1543.80" x2="839.44" y2="1552.00" stroke="#000" stroke-width="8.6" stroke-linecap="round"/>
<line x1="839.44" y1="2423.80" x2="839.44" y2="2415.60" stroke="#000" stroke-width="8.6" stroke-linecap="round"/>
<line x1="892.93" y1="1543.80" x2="892.93" y2="1552.00" stroke="#000" stroke-width="8.6" stroke-linecap="round"/>
<line x1="892.93" y1="2423.80" x2="892.93" y2="2415.60" stroke="#000" stroke-width="8.6" stroke-linecap="round"/>
<line x1="939.27" y1="1543.80" x2="939.27" y2="1552.00" stroke="#000" stroke-width="8.6" stroke-linecap="round"/>
<line x1="939.27" y1="2423.80" x2="939.27" y2="2415.60" stroke="#000" stroke-width="8.6" stroke-linecap="round"/>
<line x1="980.14" y1="1543.80" x2="980.14" y2="1552.00" stroke="#000" stroke-width="8.6" stroke-linecap="round"/>
<line x1="980.14" y1="2423.80" x2="980.14" y2="2415.60" stroke="#000" stroke-width="8.6" stroke-linecap="round"/>
<line x1="1016.70" y1="1543.80" x2="1016.70" y2="1560.50" stroke="#000" stroke-width="8.6" stroke-linecap="round"/>
<line x1="1016.70" y1="2423.80" x2="1016.70" y2="2407.10" stroke="#000" stroke-width="8.6" stroke-linecap="round"/>
<line x1="217.70" y1="1575.52" x2="225.90" y2="1575.52" stroke="#000" stroke-width="8.6" stroke-linecap="round"/>
<line x1="1257.60" y1="1575.52" x2="1249.40" y2="1575.52" stroke="#000" stroke-width="8.6" stroke-linecap="round"/>
<line x1="217.70" y1="1610.09" x2="225.90" y2="1610.09" stroke="#000" stroke-width="8.6" stroke-linecap="round"/>
<line x1="1257.60" y1="1610.09" x2="1249.40" y2="1610.09" stroke="#000" stroke-width="8.6" stroke-linecap="round"/>
<line x1="217.70" y1="1649.28" x2="225.90" y2="1649.28" stroke="#000" stroke-width="8.6" stroke-linecap="round"/>
<line x1="1257.60" y1="1649.28" x2="1249.40" y2="1649.28" stroke="#000" stroke-width="8.6" stroke-linecap="round"/>
<line x1="217.70" y1="1694.53" x2="225.90" y2="1694.53" stroke="#000" stroke-width="8.6" stroke-linecap="round"/>
<line x1="1257.60" y1="1694.53" x2="1249.40" y2="1694.53" stroke="#000" stroke-width="8.6" stroke-linecap="round"/>
<line x1="217.70" y1="1748.04" x2="225.90" y2="1748.04" stroke="#000" stroke-width="8.6" stroke-linecap="round"/>
<line x1="1257.60" y1="1748.04" x2="1249.40" y2="1748.04" stroke="#000" stroke-width="8.6" stroke-linecap="round"/>
<line x1="217.70" y1="1813.53" x2="225.90" y2="1813.53" stroke="#000" stroke-width="8.6" stroke-linecap="round"/>
<line x1="1257.60" y1="1813.53" x2="1249.40" y2="1813.53" stroke="#000" stroke-width="8.6" stroke-linecap="round"/>
<line x1="217.70" y1="1897.96" x2="225.90" y2="1897.96" stroke="#000" stroke-width="8.6" stroke-linecap="round"/>
<line x1="1257.60" y1="1897.96" x2="1249.40" y2="1897.96" stroke="#000" stroke-width="8.6" stroke-linecap="round"/>
<line x1="217.70" y1="2016.96" x2="225.90" y2="2016.96" stroke="#000" stroke-width="8.6" stroke-linecap="round"/>
<line x1="1257.60" y1="2016.96" x2="1249.40" y2="2016.96" stroke="#000" stroke-width="8.6" stroke-linecap="round"/>
<line x1="217.70" y1="2251.32" x2="225.90" y2="2251.32" stroke="#000" stroke-width="8.6" stroke-linecap="round"/>
<line x1="1257.60" y1="2251.32" x2="1249.40" y2="2251.32" stroke="#000" stroke-width="8.6" stroke-linecap="round"/>
<line x1="217.70" y1="2285.89" x2="225.90" y2="2285.89" stroke="#000" stroke-width="8.6" stroke-linecap="round"/>
<line x1="1257.60" y1="2285.89" x2="1249.40" y2="2285.89" stroke="#000" stroke-width="8.6" stroke-linecap="round"/>
<line x1="217.70" y1="2325.08" x2="225.90" y2="2325.08" stroke="#000" stroke-width="8.6" stroke-linecap="round"/>
<line x1="1257.60" y1="2325.08" x2="1249.40" y2="2325.08" stroke="#000" stroke-width="8.6" stroke-linecap="round"/>
<line x1="217.70" y1="2370.33" x2="225.90" y2="2370.33" stroke="#000" stroke-width="8.6" stroke-linecap="round"/>
<line x1="1257.60" y1="2370.33" x2="1249.40" y2="2370.33" stroke="#000" stroke-width="8.6" stroke-linecap="round"/>
<line x1="217.70" y1="2220.40" x2="234.40" y2="2220.40" stroke="#000" stroke-width="8.6" stroke-linecap="round"/>
<line x1="1257.60" y1="2220.40" x2="1240.90" y2="2220.40" stroke="#000" stroke-width="8.6" stroke-linecap="round"/>
<rect x="217.7" y="1543.8" width="1039.90" height="880.00" fill="none" stroke="#000" stroke-width="9.0" stroke-linejoin="round"/>
<circle cx="628.1" cy="2141.7" r="30.35" fill="#00ff00" stroke="#000" stroke-width="10.4"/>
<circle cx="654.1" cy="2140.4" r="30.35" fill="#00ff00" stroke="#000" stroke-width="10.4"/>
<circle cx="639.3" cy="2155.8" r="30.35" fill="#00ff00" stroke="#000" stroke-width="10.4"/>
<circle cx="637.6" cy="2137.1" r="30.35" fill="#00ff00" stroke="#000" stroke-width="10.4"/>
<circle cx="637.5" cy="2134.4" r="30.35" fill="#00ff00" stroke="#000" stroke-width="10.4"/>
<circle cx="1048.4" cy="1805.9" r="30.35" fill="#0000ff" stroke="#000" stroke-width="10.4"/>
<circle cx="1041.7" cy="1804.3" r="30.35" fill="#0000ff" stroke="#000" stroke-width="10.4"/>
<circle cx="1016.5" cy="1836.2" r="30.35" fill="#0000ff" stroke="#000" stroke-width="10.4"/>
<circle cx="1016.5" cy="1811.3" r="30.35" fill="#0000ff" stroke="#000" stroke-width="10.4"/>
<circle cx="1026.0" cy="1806.3" r="30.35" fill="#0000ff" stroke="#000" stroke-width="10.4"/>
<circle cx="1172.3" cy="1692.1" r="30.35" fill="#ff0000" stroke="#000" stroke-width="10.4"/>
<circle cx="1169.3" cy="1693.8" r="30.35" fill="#ff0000" stroke="#000" stroke-width="10.4"/>
<circle cx="1159.3" cy="1715.7" r="30.35" fill="#ff0000" stroke="#000" stroke-width="10.4"/>
<circle cx="1167.6" cy="1687.1" r="30.35" fill="#ff0000" stroke="#000" stroke-width="10.4"/>
<circle cx="1168.5" cy="1683.0" r="30.35" fill="#ff0000" stroke="#000" stroke-width="10.4"/>
<circle cx="537.2" cy="2220.6" r="30.35" fill="#000000" stroke="#000" stroke-width="10.4"/>
<circle cx="534.7" cy="2220.6" r="30.35" fill="#000000" stroke="#000" stroke-width="10.4"/>
<circle cx="532.2" cy="2220.6" r="30.35" fill="#000000" stroke="#000" stroke-width="10.4"/>
<circle cx="529.7" cy="2220.6" r="30.35" fill="#000000" stroke="#000" stroke-width="10.4"/>
<circle cx="528.0" cy="2220.6" r="30.35" fill="#000000" stroke="#000" stroke-width="10.4"/>
<circle cx="565.7" cy="2216.4" r="30.35" fill="#ffffff" stroke="#000" stroke-width="10.4"/>
<circle cx="533.0" cy="2231.7" r="30.35" fill="#ffffff" stroke="#000" stroke-width="10.4"/>
<circle cx="521.0" cy="2232.5" r="30.35" fill="#ffffff" stroke="#000" stroke-width="10.4"/>
<circle cx="520.6" cy="2232.8" r="30.35" fill="#ffffff" stroke="#000" stroke-width="10.4"/>
<circle cx="520.5" cy="2232.8" r="30.35" fill="#ffffff" stroke="#000" stroke-width="10.4"/>
<circle cx="520.5" cy="2250.1" r="30.35" fill="#ffff00" stroke="#000" stroke-width="10.4"/>
<circle cx="500.7" cy="2261.3" r="30.35" fill="#ffff00" stroke="#000" stroke-width="10.4"/>
<circle cx="510.4" cy="2263.6" r="30.35" fill="#ffff00" stroke="#000" stroke-width="10.4"/>
<circle cx="509.6" cy="2240.9" r="30.35" fill="#ffff00" stroke="#000" stroke-width="10.4"/>
<circle cx="500.0" cy="2250.6" r="30.35" fill="#ffff00" stroke="#000" stroke-width="10.4"/>
<g transform="translate(191.60 1560.60) scale(1.0 1)"><text font-size="51.5" font-weight="normal" font-style="normal" text-anchor="end" stroke="#000" stroke-width="0.6">10</text></g>
<g transform="translate(187.40 2236.20) scale(1.0 1)"><text font-size="51.5" font-weight="normal" font-style="normal" text-anchor="end" stroke="#000" stroke-width="0.6">1</text></g>
<g transform="translate(187.00 2437.80) scale(1.0 1)"><text font-size="51.5" font-weight="normal" font-style="normal" text-anchor="end" stroke="#000" stroke-width="0.6">0.5</text></g>
<g transform="translate(215.60 2495.50) scale(1.0 1)"><text font-size="51.5" font-weight="normal" font-style="normal" text-anchor="middle" stroke="#000" stroke-width="0.6">0.1</text></g>
<g transform="translate(1016.20 2496.00) scale(1.0 1)"><text font-size="51.5" font-weight="bold" font-style="normal" text-anchor="middle" >1</text></g>
<g transform="translate(1248.69 2496.30) scale(1.0040 1.0132)"><text font-size="58" font-weight="bold" font-style="normal" text-anchor="start" >2</text></g>
<g transform="translate(269.09 1664.31) scale(1.0138 0.9889)"><text font-size="77" font-weight="bold" font-style="normal" text-anchor="start" >Extraction</text></g>
<rect x="267.9" y="1672" width="360" height="7.8" fill="#000"/>
<g transform="translate(275.88 1765.00) scale(1.0094 1.0419)"><text font-size="66" font-weight="bold" font-style="normal" text-anchor="start" >n = 1 - 5</text></g>
<g transform="translate(732.70 2281.70) scale(1.0217 1.0217)"><text font-size="58.3" font-weight="normal" stroke="#000" stroke-width="0.6">y<tspan font-size="39" dy="18.3">W,0</tspan><tspan dy="-18.3"> = 0.1, E</tspan><tspan font-size="39" dy="18.3">0</tspan><tspan dy="-18.3">/R</tspan><tspan font-size="39" dy="18.3">0</tspan><tspan dy="-18.3"> = 1</tspan></text></g>
<g transform="translate(732.68 2366.50) scale(1.0158 1.0158)"><text font-size="58.3" font-weight="normal" stroke="#000" stroke-width="0.6">T = 303 K, t = 72 h</text></g>
<g transform="translate(683.04 2569.10) scale(0.9823 1.0027)"><text font-size="78" font-weight="bold" font-style="normal" text-anchor="start" >m</text></g>
<g transform="translate(747.75 2594.37) scale(1.0463 1.0791)"><text font-size="51" font-weight="bold"><tspan font-style="italic">i</tspan>,n</text></g>
<g transform="translate(825.40 2569.44) scale(1.1500 0.9685)"><text font-size="80" font-weight="bold" font-style="normal" text-anchor="start" >(</text></g>
<g transform="translate(852.59 2573.51) scale(1.0714 1.1571)"><text font-size="80" font-weight="bold" font-style="normal" text-anchor="start" >-</text></g>
<g transform="translate(878.74 2569.21) scale(1.1550 0.9819)"><text font-size="80" font-weight="bold" font-style="normal" text-anchor="start" >)</text></g>
<g transform="translate(92.66 2176.90) scale(0.9554 1.0762) rotate(-90)"><text font-size="83" font-weight="bold" font-style="normal" text-anchor="start" >(</text></g>
<g transform="translate(92.86 2149.42) scale(1.0179 1.0806) rotate(-90)"><text font-size="83" font-weight="normal" font-style="normal" text-anchor="start" stroke="#000" stroke-width="2">β</text></g>
<g transform="translate(119.59 2106.09) scale(0.9886 0.9952) rotate(-90)"><text font-size="54" font-weight="normal" font-style="italic" text-anchor="start" stroke="#000" stroke-width="0.6">i,2MNA</text></g>
<g transform="translate(95.61 1937.44) scale(0.9581 1.1143) rotate(-90)"><text font-size="83" font-weight="bold" font-style="normal" text-anchor="start" >)</text></g>
<g transform="translate(120.00 1908.28) scale(1.0500 0.9800) rotate(-90)"><text font-size="49" font-weight="bold" font-style="normal" text-anchor="start" >n</text></g>
<g transform="translate(95.61 1864.50) scale(0.9581 1.1000) rotate(-90)"><text font-size="83" font-weight="bold" font-style="normal" text-anchor="start" >(</text></g>
<g transform="translate(99.84 1838.00) scale(1.1714 1.0000) rotate(-90)"><text font-size="83" font-weight="bold" font-style="normal" text-anchor="start" >-</text></g>
<g transform="translate(95.61 1812.19) scale(0.9581 1.0952) rotate(-90)"><text font-size="83" font-weight="bold" font-style="normal" text-anchor="start" >)</text></g>
<g transform="translate(619.50 2708.92) scale(0.9000 0.9987)"><text font-size="86" font-weight="normal" font-style="normal" text-anchor="start" >(</text></g>
<g transform="translate(646.95 2709.39) scale(0.9485 1.0095)"><text font-size="86" font-weight="bold" font-style="normal" text-anchor="start" >c</text></g>
<g transform="translate(683.36 2708.92) scale(0.9136 0.9987)"><text font-size="86" font-weight="normal" font-style="normal" text-anchor="start" >)</text></g>
</g>
</svg>
</body></html>
